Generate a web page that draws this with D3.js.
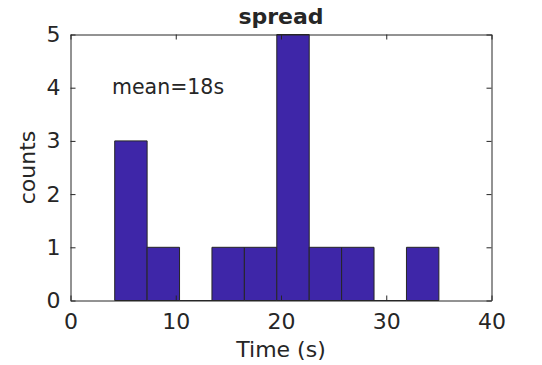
<!DOCTYPE html>
<html><head><meta charset="utf-8">
<script src="https://cdn.jsdelivr.net/npm/d3@7"></script>
<style>body{margin:0;background:#fff}svg{display:block}text{font-family:"DejaVu Sans",sans-serif;fill:#262626}</style>
</head><body>
<script>
const binEdges = [4.2, 7.28, 10.36, 13.44, 16.52, 19.6, 22.68, 25.76, 28.84, 31.92, 35.0];
const counts = [3, 1, 0, 1, 1, 5, 1, 1, 0, 1];
const xTicks = [0, 10, 20, 30, 40];
const yTicks = [0, 1, 2, 3, 4, 5];
const title = "spread";
const annotation = "mean=18s";

const W = 542, H = 365;
const m = {left: 70.5, right: 491.5, top: 34.5, bottom: 300.5};
const svg = d3.select("body").append("svg").attr("width", W).attr("height", H);
const x = d3.scaleLinear().domain([0, 40]).range([m.left, m.right]);
const y = d3.scaleLinear().domain([0, 5]).range([m.bottom, m.top]);
const axColor = "#262626";

const bins = counts.map((c, i) => ({x0: binEdges[i], x1: binEdges[i + 1], c}));
svg.append("g").selectAll("path").data(bins).join("path")
  .attr("d", d => `M${x(d.x0)},${y(0)}V${y(d.c)}H${x(d.x1)}V${y(0)}Z`)
  .attr("fill", "#3e26a8").attr("stroke", "#262626").attr("stroke-width", 1);

const tl = 5;
const gx = svg.append("g").attr("transform", `translate(0,${m.bottom})`)
  .call(d3.axisBottom(x).tickValues(xTicks).tickFormat(d3.format("d")).tickSize(-tl).tickPadding(13).tickSizeOuter(0));
const gxt = svg.append("g").attr("transform", `translate(0,${m.top})`)
  .call(d3.axisTop(x).tickValues(xTicks).tickSize(-tl).tickFormat("").tickSizeOuter(0));
const gy = svg.append("g").attr("transform", `translate(${m.left},0)`)
  .call(d3.axisLeft(y).tickValues(yTicks).tickFormat(d3.format("d")).tickSize(-tl).tickPadding(10).tickSizeOuter(0));
const gyr = svg.append("g").attr("transform", `translate(${m.right},0)`)
  .call(d3.axisRight(y).tickValues(yTicks).tickSize(-tl).tickFormat("").tickSizeOuter(0));
[gx, gxt, gy, gyr].forEach(g => {
  g.selectAll("path").attr("stroke", axColor).attr("stroke-width", 1);
  g.selectAll("line").attr("stroke", axColor);
  g.selectAll("text").attr("font-size", 22).attr("font-family", "DejaVu Sans").attr("fill", axColor);
});
gx.selectAll("text").attr("dy", "0.71em");

svg.append("text").attr("x", (m.left + m.right) / 2).attr("y", 24)
  .attr("text-anchor", "middle").attr("font-size", 22).attr("font-weight", "bold").attr("fill", "#000").text(title);
svg.append("text").attr("x", (m.left + m.right) / 2).attr("y", 357)
  .attr("text-anchor", "middle").attr("font-size", 22).text("Time (s)");
svg.append("text").attr("transform", `translate(35,${(m.top + m.bottom) / 2}) rotate(-90)`)
  .attr("text-anchor", "middle").attr("font-size", 22).text("counts");
svg.append("text").attr("x", 112).attr("y", 94)
  .attr("font-size", 20.5).attr("fill", "#000").text(annotation);
</script>
</body></html>
